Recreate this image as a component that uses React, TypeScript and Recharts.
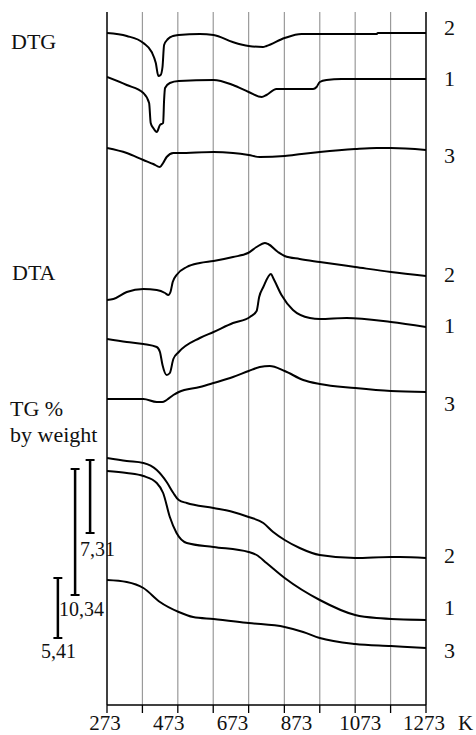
import React from "react";
import { LineChart, Line, XAxis, YAxis, ReferenceLine } from "recharts";

// Temperature (K) / signal (arbitrary offset units) pairs for each curve
const dtg2: number[][] = [
  [273, 672], [335, 669], [387, 662], [413, 653], [426, 642], [434, 629], [441, 630], [447, 638],
  [452, 660], [464, 666], [480, 669], [498, 670], [564, 671], [607, 670], [667, 663], [717, 659],
  [762, 658], [773, 659], [830, 667], [883, 671], [940, 671], [1118, 671], [1122, 672], [1273, 672],
];
const dtg1: number[][] = [
  [273, 628], [335, 620], [387, 612], [405, 602], [410, 582], [418, 577], [429, 573], [439, 580],
  [449, 582], [452, 605], [455, 617], [470, 622], [498, 624], [607, 625], [668, 620], [717, 613],
  [758, 608], [773, 610], [804, 616], [830, 616], [919, 616], [930, 618], [940, 623], [961, 625],
  [1008, 626], [1273, 626],
];
const dtg3: number[][] = [
  [273, 557], [335, 552], [387, 545], [418, 541], [439, 538], [449, 542], [460, 548], [481, 552],
  [498, 552], [607, 553], [668, 552], [717, 550], [752, 548], [830, 549], [883, 551], [940, 553],
  [1051, 556], [1118, 557], [1163, 557], [1273, 555],
];
const dta2: number[][] = [
  [273, 405], [293, 406], [335, 413], [387, 416], [429, 415], [455, 412], [465, 410], [472, 413],
  [479, 423], [491, 430], [523, 438], [564, 442], [607, 444], [668, 448], [715, 452], [742, 458],
  [768, 462], [778, 461], [809, 453], [830, 449], [877, 446], [940, 443], [1051, 438], [1163, 433],
  [1273, 429],
];
const dta1: number[][] = [
  [273, 366], [335, 363], [387, 361], [429, 358], [439, 353], [447, 340], [460, 330], [470, 332],
  [481, 346], [498, 353], [564, 367], [607, 373], [668, 382], [721, 388], [742, 394], [750, 408],
  [763, 418], [787, 431], [794, 427], [820, 410], [856, 395], [909, 387], [940, 386], [1024, 387],
  [1163, 383], [1273, 378],
];
const dta3: number[][] = [
  [273, 306], [387, 306], [429, 303], [446, 303], [460, 305], [481, 310], [498, 313], [564, 318],
  [607, 322], [668, 328], [717, 334], [752, 338], [783, 339], [830, 334], [888, 325], [940, 321],
  [1051, 317], [1163, 314], [1273, 313],
];
const tg2: number[][] = [
  [273, 247], [335, 244], [387, 242], [429, 235], [460, 223], [481, 212], [498, 205], [523, 202],
  [607, 197], [668, 193], [717, 188], [763, 182], [794, 173], [830, 165], [877, 157], [940, 150],
  [1051, 147], [1163, 148], [1191, 148], [1273, 147],
];
const tg1: number[][] = [
  [273, 234], [335, 232], [387, 229], [429, 222], [449, 212], [470, 188], [491, 172], [523, 162],
  [607, 158], [717, 153], [742, 150], [773, 142], [830, 127], [940, 105], [1051, 90], [1118, 87],
  [1273, 85],
];
const tg3: number[][] = [
  [273, 125], [335, 123], [387, 117], [439, 103], [498, 93], [543, 88], [607, 86], [717, 82],
  [830, 78], [888, 73], [940, 67], [1051, 61], [1163, 59], [1273, 57],
];

const gridTicks = [273, 384, 495, 606, 717, 829, 940, 1051, 1162, 1273];
const labelTicks = [273, 473, 673, 873, 1073, 1273];
const allTicks = Array.from(new Set([...gridTicks, ...labelTicks])).sort((a, b) => a - b);

// scale bars: label, x (K), top & bottom (signal units)
const scaleBars = [
  { label: "7,31", t: 220, top: 245, bottom: 172 },
  { label: "10,34", t: 173, top: 236, bottom: 110 },
  { label: "5,41", t: 119, top: 127, bottom: 67 },
];
const capHalf = 14;

const seriesList = [
  { id: "dtg2", pts: dtg2 }, { id: "dtg1", pts: dtg1 }, { id: "dtg3", pts: dtg3 },
  { id: "dta2", pts: dta2 }, { id: "dta1", pts: dta1 }, { id: "dta3", pts: dta3 },
  { id: "tg2", pts: tg2 }, { id: "tg1", pts: tg1 }, { id: "tg3", pts: tg3 },
];

const FONT = "'Liberation Serif', 'Times New Roman', serif";
const TXT = "#111";

const AxisTick = (props: any) => {
  const { x, y, payload } = props;
  const v = payload.value;
  return (
    <g>
      {gridTicks.includes(v) && <line x1={x} x2={x} y1={y} y2={y + 8} stroke="#000" strokeWidth={1.3} />}
      {labelTicks.includes(v) && (
        <text x={x - 2} y={y + 25} textAnchor="middle" fontFamily={FONT} fontSize={21} fill={TXT}>
          {v}
        </text>
      )}
    </g>
  );
};

const sideLabels = [
  { text: "2", y: 35 }, { text: "1", y: 86 }, { text: "3", y: 163 },
  { text: "2", y: 282 }, { text: "1", y: 333 }, { text: "3", y: 411 },
  { text: "2", y: 563 }, { text: "1", y: 615 }, { text: "3", y: 658 },
];

export default function App() {
  return (
    <div style={{ position: "absolute", left: 0, top: 0, width: 476, height: 735, background: "#fff" }}>
      <LineChart width={476} height={735} margin={{ top: 12, right: 50, bottom: 0, left: 107 }}>
        <XAxis
          dataKey="t"
          type="number"
          domain={[273, 1273]}
          ticks={allTicks}
          interval={0}
          tick={<AxisTick />}
          tickLine={false}
          tickSize={0}
          tickMargin={0}
          height={30}
          axisLine={{ stroke: "#000", strokeWidth: 1.5 }}
          allowDataOverflow
        />
        <YAxis hide type="number" domain={[0, 693]} />
        {gridTicks.slice(1, -1).map((g) => (
          <ReferenceLine key={"g" + g} x={g} stroke="#9a9a9a" strokeWidth={1.2} />
        ))}
        <ReferenceLine x={273} stroke="#000" strokeWidth={1.5} />
        <ReferenceLine x={1273} stroke="#000" strokeWidth={1.5} />
        {seriesList.map((s) => (
          <Line
            key={s.id}
            data={s.pts.map(([t, v]) => ({ t, v }))}
            dataKey="v"
            type="monotone"
            stroke="#000"
            strokeWidth={2}
            dot={false}
            isAnimationActive={false}
          />
        ))}
        {scaleBars.map((b) => (
          <ReferenceLine
            key={"b" + b.label}
            segment={[{ x: b.t, y: b.top }, { x: b.t, y: b.bottom }]}
            ifOverflow="visible"
            stroke="#000"
            strokeWidth={2.5}
          />
        ))}
        {scaleBars.map((b) => (
          <ReferenceLine
            key={"bt" + b.label}
            segment={[{ x: b.t - capHalf, y: b.top }, { x: b.t + capHalf, y: b.top }]}
            ifOverflow="visible"
            stroke="#000"
            strokeWidth={2}
          />
        ))}
        {scaleBars.map((b) => (
          <ReferenceLine
            key={"bb" + b.label}
            segment={[{ x: b.t - capHalf, y: b.bottom }, { x: b.t + capHalf, y: b.bottom }]}
            ifOverflow="visible"
            stroke="#000"
            strokeWidth={2}
          />
        ))}
      </LineChart>
      <svg
        width={476}
        height={735}
        style={{ position: "absolute", left: 0, top: 0, pointerEvents: "none" }}
      >
        <g fontFamily={FONT} fontSize={22} fill={TXT}>
          <text x={11} y={49}>DTG</text>
          <text x={12} y={280}>DTA</text>
          <text x={10} y={416}>TG %</text>
          <text x={10} y={442}>by weight</text>
          {sideLabels.map((l, i) => (
            <text key={i} x={444} y={l.y}>{l.text}</text>
          ))}
          <text x={458} y={730} fontSize={21}>K</text>
        </g>
        <g fontFamily={FONT} fontSize={20} fill={TXT}>
          <text x={80} y={556}>{scaleBars[0].label}</text>
          <text x={59} y={616}>{scaleBars[1].label}</text>
          <text x={41} y={658}>{scaleBars[2].label}</text>
        </g>
      </svg>
    </div>
  );
}
